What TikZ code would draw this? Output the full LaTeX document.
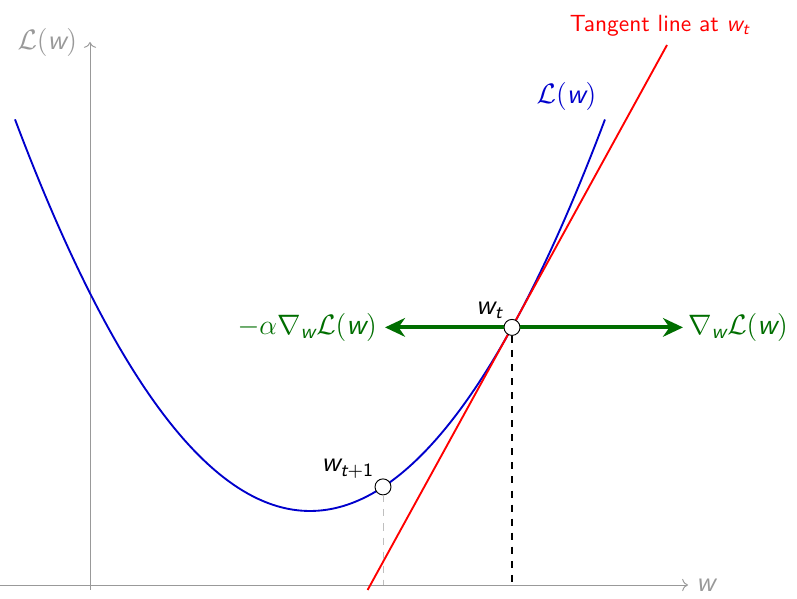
\documentclass[tikz,border=0pt]{standalone}
\usepackage{amsmath}
\usetikzlibrary{arrows.meta}
\newcommand{\sv}[1]{\text{\sffamily\itshape #1}}
\newcommand{\su}[1]{\text{\sffamily #1}}
\colorlet{gradgreen}{green!43!black}
\colorlet{lossblue}{blue!80!black}
\colorlet{axisgray}{gray!80}

\begin{document}
\begin{tikzpicture}[x=1.5cm, y=1.5cm, every node/.style={font=\sffamily\large},
  pt/.style={circle, draw, fill=white, inner sep=0pt, minimum size=0.24cm},
  grad/.style={-{Stealth[length=3mm, width=2.8mm]}, line width=1.8pt, gradgreen},
  gradlabel/.style={text=gradgreen, font=\sffamily\fontsize{12.6}{15}\selectfont}]
  \useasboundingbox (-0.9,-0.14) rectangle (7.07,5.85);

  % axes
  \coordinate (O) at (0,0);
  \draw[->, axisgray] (-0.9,0) -- (5.98,0) node[right, text=axisgray] (xlab) {\sv{w}};
  \draw[->, axisgray] (0,-0.05) -- (0,5.43) node[left=2pt, text=axisgray] (ylab) {$\mathcal{L}(\sv{w})$};

  % loss curve
  \draw[lossblue, thick, domain=-0.75:5.15, samples=120, variable=\t]
    plot (\t, {0.45*(\t-2.2)*(\t-2.2)+0.74}) node[above left, text=lossblue] (lossl) {$\mathcal{L}(\sv{w})$};

  % tangent at w_t
  \draw[red, thick] (2.776,-0.05) -- (5.77,5.4)
    node[above, xshift=-3pt, text=red, font=\sffamily] (tanl) {Tangent line at \sv{w}$_{\sv{t}}$};

  % points
  \node[pt] (wt) at (4.22,2.576) {};
  \node[pt] (wn) at (2.93,0.981) {};
  \node[above left, inner sep=1pt] (wtl) at (wt.north west) {\sv{w}$_{\sv{t}}$};
  \node[above left, inner sep=1pt] (wnl) at (wn.north west) {\sv{w}$_{\sv{t}+\su{1}}$};

  % drops to the axis
  \draw[dashed, thick] (wt) -- (wt |- O);
  \draw[dashed, gray!50] (wn) -- (wn |- O);

  % gradient directions
  \node[anchor=east, gradlabel] (neg) at (2.95,2.576) {$-\alpha\nabla_{\sv{w}}\mathcal{L}(\sv{w})$};
  \node[anchor=west, gradlabel, inner sep=2pt] (pos) at (5.93,2.576) {$\nabla_{\sv{w}}\mathcal{L}(\sv{w})$};
  \draw[grad] (wt) -- (neg);
  \draw[grad] (wt) -- (pos);
\end{tikzpicture}
\end{document}
